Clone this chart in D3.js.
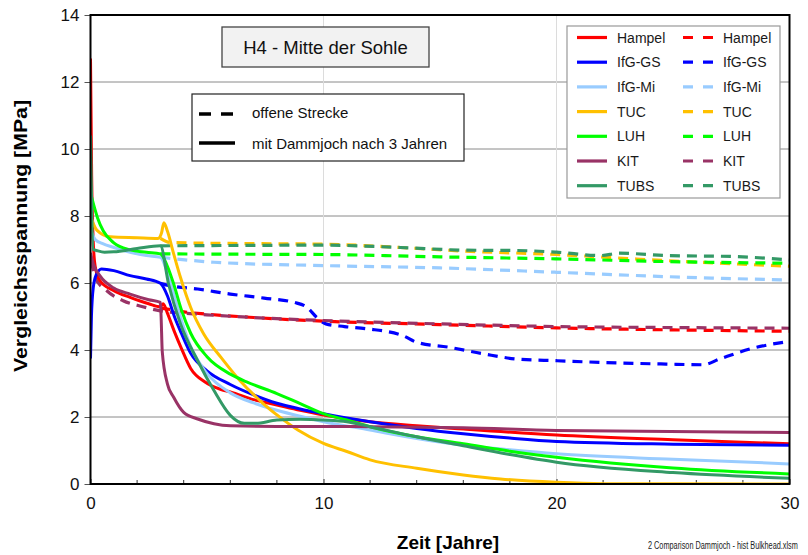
<!DOCTYPE html>
<html>
<head>
<meta charset="utf-8">
<script src="https://cdn.jsdelivr.net/npm/d3@7"></script>
<style>
  html, body { margin: 0; padding: 0; background: #fff; }
  svg { display: block; font-family: "Liberation Sans", Arial, sans-serif; }
</style>
</head>
<body>
<svg id="chart" width="808" height="555"></svg>
<script>
// Series names and colours (legend order)
const seriesNames = ["Hampel", "IfG-GS", "IfG-Mi", "TUC", "LUH", "KIT", "TUBS"];
const seriesColors = ["#ff0000", "#0000ff", "#99ccff", "#ffc000", "#00ff00", "#993366", "#339966"];

// Axis ticks
const xTicks = [0, 10, 20, 30];
const xMinorTicks = [2, 4, 6, 8, 12, 14, 16, 18, 22, 24, 26, 28];
const yTicks = [0, 2, 4, 6, 8, 10, 12, 14];

// Stress over time [years, MPa] — with bulkhead after 3 years (solid)
const hampelSolid = [[0,12.7],[0.05,9.2],[0.12,7.2],[0.2,6.5],[0.4,6.07],[1,5.77],[1.7,5.57],[2.5,5.38],[3,5.29],[3.12,5.38],[3.3,5.1],[3.6,4.55],[3.9,4.05],[4.3,3.45],[4.9,3.05],[5.6,2.82],[6,2.75],[7,2.52],[8,2.36],[9,2.2],[10,2.06],[12,1.86],[14,1.74],[16,1.64],[20,1.46],[25,1.32],[30,1.2]];
const ifgGsSolid = [[0,3.75],[0.04,5.0],[0.12,5.87],[0.25,6.25],[0.47,6.42],[1,6.37],[1.7,6.22],[2.4,6.12],[3,5.99],[3.3,5.62],[3.6,5.0],[3.9,4.5],[4.3,3.9],[5,3.38],[6,2.97],[7,2.66],[8,2.41],[9,2.24],[10,2.1],[12,1.86],[14,1.66],[16,1.5],[18,1.37],[20,1.27],[25,1.19],[30,1.16]];
const ifgMiSolid = [[0,7.6],[0.2,7.3],[0.5,7.18],[1,7.06],[1.7,6.92],[2.4,6.82],[3,6.77],[3.3,6.3],[3.57,5.67],[3.9,4.9],[4.3,4.1],[5,3.3],[6,2.72],[7,2.42],[8,2.2],[9,2.02],[10,1.86],[12,1.61],[14,1.36],[16,1.16],[18,1.02],[20,0.9],[25,0.74],[30,0.6]];
const tucSolid = [[0,8.0],[0.27,7.58],[0.85,7.38],[2,7.35],[2.9,7.33],[3.05,7.5],[3.15,7.8],[3.3,7.55],[3.57,6.87],[3.86,6.17],[4.3,5.27],[4.86,4.48],[5.6,3.78],[6.4,3.1],[7.4,2.41],[8.1,2.01],[8.9,1.61],[10,1.21],[11,0.97],[12,0.72],[14,0.47],[16,0.27],[17.6,0.15],[20,0.05],[22,0.01],[30,0]];
const luhSolid = [[0,8.7],[0.15,8.3],[0.3,7.95],[0.55,7.55],[1,7.2],[1.7,6.99],[2.4,6.92],[3,6.87],[3.3,6.5],[3.57,5.97],[3.9,5.2],[4.3,4.5],[5,3.8],[6,3.28],[6.7,3.05],[8,2.7],[9,2.4],[10,2.1],[11,1.91],[12,1.71],[14,1.41],[16,1.2],[18,0.98],[20,0.8],[25,0.48],[30,0.3]];
const kitSolid = [[0,6.9],[0.12,6.57],[0.4,6.22],[1,5.85],[1.7,5.67],[2.5,5.5],[3,5.42],[3.03,5.0],[3.08,3.95],[3.3,2.99],[3.57,2.59],[4,2.14],[4.6,1.94],[5.3,1.8],[6,1.74],[8,1.72],[10,1.72],[12,1.71],[16,1.68],[20,1.6],[30,1.54]];
const tubsSolid = [[0,10.4],[0.12,7.0],[0.26,6.97],[0.6,6.92],[1,6.93],[2,7.03],[3,7.11],[3.35,5.97],[3.86,4.78],[4.6,3.68],[5.3,2.79],[6,2.05],[6.6,1.81],[7.1,1.81],[8,1.91],[9,1.93],[10,1.91],[11,1.86],[12,1.71],[14,1.41],[16,1.14],[18,0.88],[20,0.65],[25,0.34],[30,0.17]];

// Stress over time [years, MPa] — open gallery (dashed)
const hampelDash = [[3,5.25],[3.5,5.2],[4,5.14],[5,5.07],[7,4.97],[10,4.86],[15,4.76],[20,4.66],[25,4.6],[30,4.56]];
const ifgGsDash = [[3,5.99],[3.4,5.92],[4.6,5.82],[6,5.67],[7.45,5.55],[8.75,5.42],[9.3,5.27],[9.7,4.98],[10.1,4.78],[10.9,4.7],[11.9,4.63],[13.4,4.43],[14,4.23],[15.4,4.08],[16.9,3.88],[18.3,3.73],[20,3.68],[21.9,3.63],[24.7,3.58],[26.3,3.56],[27,3.73],[28.3,4.03],[30,4.26]];
const ifgMiDash = [[3,6.77],[5.3,6.62],[10,6.52],[15,6.45],[20,6.32],[24.7,6.19],[30,6.09]];
const tucDash = [[3,7.33],[3.4,7.21],[6,7.18],[10,7.16],[13.3,7.06],[16.1,6.95],[20,6.85],[23.3,6.72],[26.1,6.62],[30,6.5]];
const luhDash = [[3,6.87],[6,6.86],[10,6.85],[15,6.78],[20,6.72],[24.7,6.64],[30,6.59]];
const kitDash = [[0.05,6.65],[0.19,6.17],[0.7,5.77],[1.4,5.47],[2.2,5.3],[3,5.17],[4,5.1],[5,5.05],[7,4.97],[10,4.88],[15,4.78],[20,4.7],[25,4.67],[30,4.65]];
const tubsDash = [[3,7.11],[6,7.12],[10,7.13],[13.3,7.06],[16.1,6.98],[18.3,6.97],[20,6.92],[21.9,6.82],[22.7,6.89],[24.7,6.82],[27.6,6.79],[30,6.69]];

const solidSeries = [hampelSolid, ifgGsSolid, ifgMiSolid, tucSolid, luhSolid, kitSolid, tubsSolid];
const dashSeries = [hampelDash, ifgGsDash, ifgMiDash, tucDash, luhDash, kitDash, tubsDash];

const svg = d3.select("#chart");
const plotLeft = 90.5, plotRight = 789.5, plotTop = 15, plotBottom = 484;

const x = d3.scaleLinear().domain([0, 30]).range([plotLeft, plotRight]);
const y = d3.scaleLinear().domain([0, 14]).range([plotBottom, plotTop]);

// Gridlines
svg.append("g").selectAll("line").data(yTicks.filter(v => v > 0 && v < 14)).join("line")
  .attr("x1", plotLeft).attr("x2", plotRight)
  .attr("y1", d => y(d)).attr("y2", d => y(d))
  .attr("stroke", "#8a8a8a").attr("stroke-width", 1);
svg.append("g").selectAll("line").data([10, 20]).join("line")
  .attr("x1", d => x(d)).attr("x2", d => x(d))
  .attr("y1", plotTop).attr("y2", plotBottom)
  .attr("stroke", "#dcdcdc").attr("stroke-width", 1);

// Y axis
const yAxis = svg.append("g").attr("transform", `translate(${plotLeft},0)`)
  .call(d3.axisLeft(y).tickValues(yTicks).tickSize(6).tickPadding(5).tickFormat(d3.format("d")));
yAxis.select(".domain").remove();
yAxis.selectAll(".tick line").attr("stroke", "#555");
yAxis.selectAll(".tick text").attr("font-size", 17).attr("fill", "#111")
  .attr("font-family", "'Liberation Sans', Arial, sans-serif");

// X axis: minor inward ticks
svg.append("g").selectAll("line").data(xMinorTicks).join("line")
  .attr("x1", d => x(d)).attr("x2", d => x(d))
  .attr("y1", plotBottom).attr("y2", plotBottom - 4)
  .attr("stroke", "#333").attr("stroke-width", 1);
const xAxis = svg.append("g").attr("transform", `translate(0,${plotBottom})`)
  .call(d3.axisBottom(x).tickValues(xTicks).tickSize(-5).tickPadding(13).tickFormat(d3.format("d")));
xAxis.select(".domain").remove();
xAxis.selectAll(".tick line").attr("stroke", "#333");
xAxis.selectAll(".tick text").attr("font-size", 17).attr("fill", "#111")
  .attr("font-family", "'Liberation Sans', Arial, sans-serif");

// Data lines
svg.append("defs").append("clipPath").attr("id", "plotClip")
  .append("rect").attr("x", plotLeft).attr("y", plotTop - 2).attr("width", plotRight - plotLeft).attr("height", plotBottom - plotTop + 2);

const line = d3.line().x(d => x(d[0])).y(d => y(d[1])).curve(d3.curveMonotoneX);
const plot = svg.append("g").attr("clip-path", "url(#plotClip)");

plot.selectAll("path.dash").data(dashSeries).join("path")
  .attr("class", "dash")
  .attr("d", line)
  .attr("fill", "none")
  .attr("stroke", (d, i) => seriesColors[i])
  .attr("stroke-width", 3.2)
  .attr("stroke-dasharray", "10,7");

plot.selectAll("path.solid").data(solidSeries).join("path")
  .attr("class", "solid")
  .attr("d", line)
  .attr("fill", "none")
  .attr("stroke", (d, i) => seriesColors[i])
  .attr("stroke-width", 3)
  .attr("stroke-linejoin", "round");

// Plot frame
svg.append("rect").attr("x", plotLeft).attr("y", plotTop)
  .attr("width", plotRight - plotLeft).attr("height", plotBottom - plotTop)
  .attr("fill", "none").attr("stroke", "#000").attr("stroke-width", 2);

// Title box
svg.append("rect").attr("x", 222).attr("y", 27).attr("width", 207).attr("height", 40)
  .attr("fill", "#f2f2f2").attr("stroke", "#444").attr("stroke-width", 1.3);
svg.append("text").attr("x", 325.5).attr("y", 54).attr("text-anchor", "middle")
  .attr("font-size", 18.5).attr("fill", "#111").text("H4 - Mitte der Sohle");

// Line style legend
const styleBox = svg.append("g");
styleBox.append("rect").attr("x", 192).attr("y", 94).attr("width", 272).attr("height", 67)
  .attr("fill", "#fff").attr("stroke", "#222").attr("stroke-width", 1.2);
styleBox.append("line").attr("x1", 199).attr("x2", 233).attr("y1", 114).attr("y2", 114)
  .attr("stroke", "#000").attr("stroke-width", 3.5).attr("stroke-dasharray", "12,10");
styleBox.append("line").attr("x1", 199).attr("x2", 235).attr("y1", 143).attr("y2", 143)
  .attr("stroke", "#000").attr("stroke-width", 3.5);
styleBox.append("text").attr("x", 252).attr("y", 118).attr("font-size", 15).attr("fill", "#111").text("offene Strecke");
styleBox.append("text").attr("x", 252).attr("y", 148.5).attr("font-size", 15).attr("fill", "#111").text("mit Dammjoch nach 3 Jahren");

// Series legend
const leg = svg.append("g");
leg.append("rect").attr("x", 567).attr("y", 26).attr("width", 213).attr("height", 172)
  .attr("fill", "#fff").attr("stroke", "#999").attr("stroke-width", 1.2);
const rows = leg.selectAll("g.row").data(seriesNames).join("g")
  .attr("class", "row")
  .attr("transform", (d, i) => `translate(0,${37.5 + i * 24.7})`);
rows.append("line").attr("x1", 577).attr("x2", 607).attr("y1", 0).attr("y2", 0)
  .attr("stroke", (d, i) => seriesColors[i]).attr("stroke-width", 3.2);
rows.append("text").attr("x", 617).attr("y", 5).attr("font-size", 14).attr("fill", "#1a1a1a").text(d => d);
rows.append("line").attr("x1", 683).attr("x2", 713).attr("y1", 0).attr("y2", 0)
  .attr("stroke", (d, i) => seriesColors[i]).attr("stroke-width", 3.2).attr("stroke-dasharray", "10,10");
rows.append("text").attr("x", 723).attr("y", 5).attr("font-size", 14).attr("fill", "#1a1a1a").text(d => d);

// Axis titles
svg.append("text").attr("x", 448).attr("y", 549).attr("text-anchor", "middle")
  .attr("font-size", 19).attr("font-weight", "bold").attr("fill", "#000").text("Zeit [Jahre]");
svg.append("text").attr("transform", "translate(27,236) rotate(-90)").attr("text-anchor", "middle")
  .attr("font-size", 17.5).attr("font-weight", "bold").attr("fill", "#000")
  .attr("textLength", 272).attr("lengthAdjust", "spacingAndGlyphs")
  .text("Vergleichsspannung [MPa]");

// File note, condensed horizontally to a fixed width ending at the right margin
const note = svg.append("g");
const noteText = note.append("text").attr("x", 0).attr("y", 0).attr("font-size", 10)
  .attr("font-family", "'Liberation Sans Narrow', 'Liberation Sans', Arial, sans-serif")
  .attr("fill", "#222").text("2 Comparison Dammjoch - hist Bulkhead.xlsm");
const noteWidth = noteText.node().getComputedTextLength() || 153;
note.attr("transform", `translate(648,549) scale(${150 / noteWidth},1)`);
</script>
</body>
</html>
